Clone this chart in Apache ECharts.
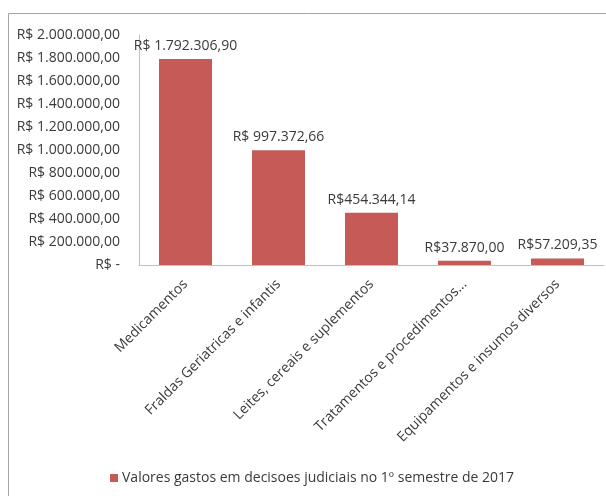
<!DOCTYPE html>
<html><head><meta charset="utf-8">
<script src="https://cdn.jsdelivr.net/npm/echarts@6/dist/echarts.min.js"></script>
<style>html,body{margin:0;padding:0;background:#fff}#c{width:606px;height:496px}</style>
</head><body><div id="c"></div>
<script>
var categories = ["Medicamentos","Fraldas Geriatricas e infantis","Leites, cereais e suplementos","Tratamentos e procedimentos...","Equipamentos e insumos diversos"];
var values = [1792306.90, 997372.66, 454344.14, 37870.00, 57209.35];
var valueLabels = ["R$ 1.792.306,90","R$ 997.372,66","R$454.344,14","R$37.870,00","R$57.209,35"];
var seriesName = "Valores gastos em decisoes judiciais no 1º semestre de 2017";
var yMin = 0, yMax = 2000000, yStep = 200000;

function fmtY(v){
  if (v === 0) return "R$ -";
  var s = Math.round(v).toString().replace(/\B(?=(\d{3})+(?!\d))/g, ".");
  return "R$ " + s + ",00";
}
var FONT = "Open Sans";
var chart = echarts.init(document.getElementById('c'), null, {renderer:'canvas'});
chart.setOption({
  animation:false,
  backgroundColor:'#fff',
  textStyle:{fontFamily:FONT},
  graphic:[{type:'rect',shape:{x:8.5,y:13.5,width:700,height:600},style:{fill:'none',stroke:'#a6a6a6',lineWidth:1},silent:true}],
  grid:{left:139,right:2,top:35,bottom:231,containLabel:false},
  legend:{left:105,top:466,itemWidth:8,itemHeight:8,itemGap:4,icon:'rect',
    textStyle:{fontFamily:FONT,fontSize:14,color:'#3a3a3a',padding:[0,0,0,-1]},data:[seriesName]},
  xAxis:{type:'category',data:categories,
    axisLine:{lineStyle:{color:'#bfbfbf',width:1}},axisTick:{show:false},
    axisLabel:{rotate:45,interval:0,margin:17,fontFamily:FONT,fontSize:14,color:'#3a3a3a'}},
  yAxis:{type:'value',min:yMin,max:yMax,interval:yStep,
    axisLine:{show:true,lineStyle:{color:'#bfbfbf',width:1}},axisTick:{show:false},splitLine:{show:false},
    axisLabel:{margin:19,fontFamily:FONT,fontSize:14,color:'#3a3a3a',formatter:fmtY}},
  series:[{type:'bar',name:seriesName,data:values,barCategoryGap:'43%',
    itemStyle:{color:'#C55A57'},
    label:{show:true,position:'top',distance:6,fontFamily:FONT,fontSize:14,color:'#3a3a3a',
      formatter:function(p){return valueLabels[p.dataIndex];}}}]
});
</script></body></html>
